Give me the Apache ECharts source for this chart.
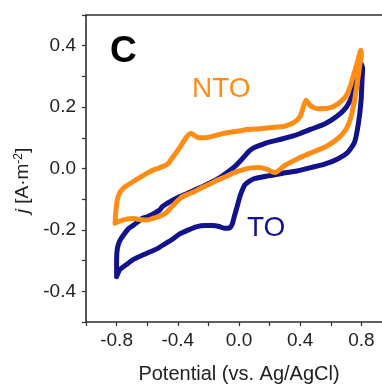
<!DOCTYPE html>
<html>
<head>
<meta charset="utf-8">
<script src="https://cdn.jsdelivr.net/npm/echarts@6/dist/echarts.min.js"></script>
<style>
html,body{margin:0;padding:0;background:#fff;}
#chart{width:382px;height:386px;}
</style>
</head>
<body>
<div id="chart"></div>
<script>
// ---- Data (Potential V vs. Ag/AgCl, current density A·m^-2) ----
const ntoAnodic = [
  [-0.81,-0.178],[-0.805,-0.14],[-0.795,-0.10],[-0.775,-0.075],[-0.74,-0.058],[-0.70,-0.045],
  [-0.64,-0.027],[-0.60,-0.015],[-0.55,-0.003],[-0.50,0.006],[-0.465,0.015],[-0.44,0.032],
  [-0.41,0.052],[-0.38,0.074],[-0.35,0.098],[-0.325,0.112],[-0.31,0.114],[-0.29,0.107],
  [-0.26,0.100],[-0.22,0.100],[-0.18,0.104],[-0.12,0.112],[-0.07,0.117],[0.0,0.122],
  [0.05,0.127],[0.15,0.130],[0.25,0.135],[0.30,0.138],[0.36,0.150],[0.40,0.170],
  [0.42,0.200],[0.438,0.222],[0.455,0.212],[0.47,0.203],[0.51,0.195],[0.58,0.196],
  [0.64,0.208],[0.70,0.236],[0.73,0.272],[0.757,0.318],[0.78,0.357],[0.796,0.385]
];
const ntoCathodic = [
  [0.80,0.37],[0.792,0.345],[0.775,0.285],[0.755,0.222],[0.732,0.168],[0.70,0.128],
  [0.645,0.097],[0.56,0.069],[0.47,0.051],[0.38,0.031],[0.30,0.010],[0.265,-0.004],
  [0.24,-0.013],[0.215,-0.010],[0.18,-0.002],[0.13,0.003],[0.08,0.002],[0.04,-0.002],
  [-0.04,-0.015],[-0.07,-0.023],[-0.15,-0.040],[-0.18,-0.048],[-0.25,-0.064],[-0.29,-0.075],
  [-0.34,-0.085],[-0.38,-0.095],[-0.42,-0.115],[-0.45,-0.130],[-0.48,-0.146],[-0.52,-0.156],
  [-0.56,-0.162],[-0.60,-0.168],[-0.64,-0.167],[-0.69,-0.163],[-0.73,-0.164],[-0.77,-0.170],
  [-0.81,-0.178]
];
const toAnodic = [
  [-0.80,-0.352],[-0.80,-0.30],[-0.795,-0.26],[-0.78,-0.236],[-0.757,-0.218],[-0.72,-0.195],
  [-0.69,-0.185],[-0.63,-0.162],[-0.60,-0.158],[-0.55,-0.145],[-0.52,-0.136],[-0.50,-0.124],
  [-0.45,-0.108],[-0.39,-0.092],[-0.35,-0.084],[-0.29,-0.070],[-0.23,-0.057],[-0.18,-0.045],
  [-0.12,-0.028],[-0.08,-0.014],[-0.03,0.005],[0.01,0.025],[0.04,0.042],[0.07,0.058],
  [0.10,0.068],[0.15,0.078],[0.19,0.085],[0.28,0.096],[0.36,0.107],[0.40,0.114],
  [0.47,0.128],[0.56,0.145],[0.64,0.170],[0.70,0.199],[0.74,0.237],[0.765,0.286],
  [0.785,0.325],[0.80,0.340]
];
const toCathodic = [
  [0.808,0.325],[0.805,0.297],[0.798,0.221],[0.78,0.145],[0.755,0.085],[0.71,0.052],
  [0.645,0.031],[0.56,0.014],[0.47,0.003],[0.38,-0.008],[0.28,-0.016],[0.19,-0.024],
  [0.09,-0.035],[0.04,-0.052],[0.01,-0.085],[-0.01,-0.120],[-0.03,-0.155],[-0.045,-0.182],
  [-0.06,-0.193],[-0.09,-0.195],[-0.13,-0.189],[-0.17,-0.186],[-0.22,-0.186],[-0.28,-0.190],
  [-0.33,-0.200],[-0.39,-0.214],[-0.44,-0.232],[-0.50,-0.250],[-0.53,-0.260],[-0.56,-0.267],
  [-0.63,-0.282],[-0.69,-0.296],[-0.73,-0.311],[-0.78,-0.330],[-0.80,-0.352]
];
const xTickLabels = ['-0.8','-0.4','0.0','0.4','0.8'];
const yTickLabels = ['-0.4','-0.2','0.0','0.2','0.4'];
const seriesNames = ['TO','NTO'];
const panelLabel = 'C';

// ---- Chart ----
const FONT = '"Liberation Sans", Arial, Helvetica, sans-serif';
const NAVY = '#12128C';
const ORANGE = '#FF8C14';
const AXIS = '#2e2e2e';
function fmt(list){
  return function(v){
    const s = (Math.round(v*10)/10).toFixed(1);
    const t = s === '-0.0' ? '0.0' : s;
    return list.indexOf(t) >= 0 ? t : '';
  };
}
const chart = echarts.init(document.getElementById('chart'), null, {renderer:'canvas'});
chart.setOption({
  animation:false,
  backgroundColor:'#ffffff',
  grid:{left:86, top:15, width:306, height:307, containLabel:false, outerBoundsMode:'none'},
  xAxis:[{
    type:'value', min:-1.0, max:1.0, interval:0.2,
    axisLine:{show:true, onZero:false, lineStyle:{color:AXIS, width:1.6}},
    axisTick:{show:true, inside:false, length:4, lineStyle:{color:AXIS, width:1.2}},
    axisLabel:{show:true, margin:9, formatter:fmt(xTickLabels), color:'#222', fontSize:19, fontFamily:FONT},
    splitLine:{show:false},
    name:'Potential (vs. Ag/AgCl)', nameLocation:'middle', nameGap:42,
    nameTextStyle:{color:'#222', fontSize:20, fontFamily:FONT}
  },{
    type:'value', position:'top', min:-1.0, max:1.0,
    axisLine:{show:true, onZero:false, lineStyle:{color:AXIS, width:1.6}},
    axisTick:{show:false}, axisLabel:{show:false}, splitLine:{show:false}
  }],
  yAxis:[{
    type:'value', min:-0.5, max:0.5, interval:0.1,
    axisLine:{show:true, onZero:false, lineStyle:{color:AXIS, width:1.6}},
    axisTick:{show:true, inside:false, length:4, lineStyle:{color:AXIS, width:1.2}},
    axisLabel:{show:true, margin:10, formatter:fmt(yTickLabels), color:'#222', fontSize:19, fontFamily:FONT},
    splitLine:{show:false},
    name:'{i|j} [A·m{s|-2}]', nameLocation:'middle', nameGap:50, nameRotate:90,
    nameTextStyle:{
      color:'#222', fontSize:19, fontFamily:FONT, padding:[0,24,0,0],
      rich:{
        i:{fontStyle:'italic', fontSize:19, fontFamily:FONT, color:'#222'},
        s:{fontSize:12, fontFamily:FONT, color:'#222', verticalAlign:'top', padding:[0,0,8,0]}
      }
    }
  }],
  series:[{
    name:seriesNames[0], type:'line', xAxisIndex:0, yAxisIndex:0,
    data: toAnodic.concat(toCathodic), showSymbol:false, symbol:'none',
    smooth:0.2, lineStyle:{color:NAVY, width:5, join:'round', cap:'round'}, z:2
  },{
    name:seriesNames[1], type:'line', xAxisIndex:0, yAxisIndex:0,
    data: ntoAnodic.concat(ntoCathodic), showSymbol:false, symbol:'none',
    smooth:0.2, lineStyle:{color:ORANGE, width:5, join:'round', cap:'round'}, z:3
  }],
  graphic:[
    {type:'text', left:110, top:33, style:{text:panelLabel, font:'bold 37px '+FONT, fill:'#000'}},
    {type:'text', left:192, top:75, style:{text:seriesNames[1], font:'28px '+FONT, fill:ORANGE}},
    {type:'text', left:247, top:214, style:{text:seriesNames[0], font:'28px '+FONT, fill:NAVY}}
  ]
});
</script>
</body>
</html>
